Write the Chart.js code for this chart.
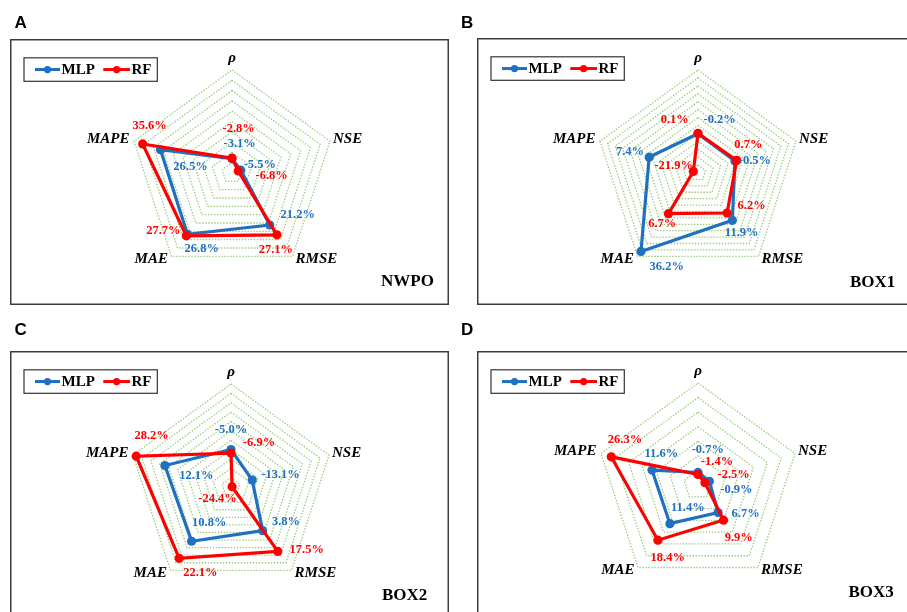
<!DOCTYPE html>
<html>
<head>
<meta charset="utf-8">
<script src="https://cdn.jsdelivr.net/npm/chart.js@4/dist/chart.umd.min.js"></script>
<style>
  html, body { margin: 0; padding: 0; background: #fff; overflow: hidden; width: 907px; height: 612px; }
  canvas { position: absolute; }
</style>
</head>
<body>
<canvas id="letters" width="907" height="612" style="left:0;top:0"></canvas>
<canvas id="cA"></canvas>
<canvas id="cB"></canvas>
<canvas id="cC"></canvas>
<canvas id="cD"></canvas>
<script>
// Radar axes, clockwise from the top
const axes = ['ρ', 'NSE', 'RMSE', 'MAE', 'MAPE'];

// Relative change (%) per metric: [ρ, NSE, RMSE, MAE, MAPE]
const mlpNWPO = [-3.1, -5.5, 21.2, 26.8, 26.5];
const rfNWPO  = [-2.8, -6.8, 27.1, 27.7, 35.6];
const mlpBOX1 = [-0.2, -0.5, 11.9, 36.2, 7.4];
const rfBOX1  = [0.1, 0.7, 6.2, 6.7, -21.9];
const mlpBOX2 = [-5.0, -13.1, 3.8, 10.8, 12.1];
const rfBOX2  = [-6.9, -24.4, 17.5, 22.1, 28.2];
const mlpBOX3 = [-0.7, -0.9, 6.7, 11.4, 11.6];
const rfBOX3  = [-1.4, -2.5, 9.9, 18.4, 26.3];

// Radial axis range per panel
const panelNames = ['NWPO', 'BOX1', 'BOX2', 'BOX3'];
const axisMin = [-10, -25, -25, -5];
const axisMax = [40, 40, 30, 30];
const axisStep = 5;

const SERIF = '"Liberation Serif", "Times New Roman", serif';
const SANS = '"Liberation Sans", Arial, sans-serif';
const BLUE = '#1f70c1';
const RED = '#ff0000';
const GRID = '#98cb78';

// Panel layout: canvas box [x, y, w, h], radar centre, radius, name position
const layout = [
  { id: 'cA', letter: 'A', letterAt: [15, 28.3], box: [10, 39, 439, 266], center: [232, 173.5], R: 103, nameAt: [381, 281.5] },
  { id: 'cB', letter: 'B', letterAt: [461.5, 28], box: [477, 38, 440, 267], center: [698, 173], R: 103, nameAt: [850, 282.5] },
  { id: 'cC', letter: 'C', letterAt: [15, 335], box: [10, 351, 439, 270], center: [231, 487], R: 103, nameAt: [382, 595.5] },
  { id: 'cD', letter: 'D', letterAt: [461.5, 335], box: [477, 351, 440, 270], center: [698, 485], R: 102, nameAt: [848.5, 592.5] }
];

// Value-label offsets from each point, [dx, dy] per axis
const labelShift = [
  { mlp: [[7.7, -15], [19, -5.6], [28, -10], [14.3, 14], [30, 17]],
    rf:  [[6.7, -29.5], [33.4, 4.6], [-1, 15], [-23, -5], [7, -18]] },
  { mlp: [[21.7, -14], [20, 0], [9.3, 12], [25.7, 15.5], [-19.2, -5.8]],
    rf:  [[-23.3, -13.7], [11.6, -15.7], [24.6, -7.5], [-6.2, 9.7], [-19.6, -6.2]] },
  { mlp: [[0, -20], [28.3, -5.3], [23.3, -8.6], [17.7, -18.2], [31.5, 10]],
    rf:  [[28, -10], [-14.5, 12.5], [29, -1.7], [21.2, 14], [15.4, -20]] },
  { mlp: [[9.8, -23], [27, 8], [27.6, 0.7], [18, -15.7], [9.3, -16.2]],
    rf:  [[19, -12.3], [28.8, -8.4], [15.2, 17.4], [9.8, 17.8], [13.7, -17.3]] }
];

// Axis-name placement relative to each outer vertex: [dx, dy, align]
const axisLabelPlace = [[0, -11.5, 'center'], [3, -2, 'left'], [3, 2.5, 'left'], [-3.5, 2.5, 'right'], [-4.5, -2, 'right']];

const series = [
  [mlpNWPO, rfNWPO],
  [mlpBOX1, rfBOX1],
  [mlpBOX2, rfBOX2],
  [mlpBOX3, rfBOX3]
];

// Panel letters above each frame
(function drawLetters() {
  const ctx = document.getElementById('letters').getContext('2d');
  ctx.fillStyle = '#000';
  ctx.font = 'bold 17px ' + SANS;
  ctx.textBaseline = 'alphabetic';
  layout.forEach(p => ctx.fillText(p.letter, p.letterAt[0] - 0.5, p.letterAt[1]));
})();

const panelDecor = {
  id: 'panelDecor',
  beforeDraw(chart, args, opts) {
    const ctx = chart.ctx;
    ctx.save();
    ctx.fillStyle = '#fff';
    ctx.fillRect(0, 0, chart.width, chart.height);
    ctx.strokeStyle = '#3c3c3c';
    ctx.lineWidth = 1.5;
    ctx.strokeRect(0.75, 0.75, chart.width - 1.5, chart.height - 1.5);
    ctx.restore();
  },
  afterDatasetsDraw(chart, args, opts) {
    const ctx = chart.ctx;
    ctx.save();
    ctx.font = 'bold 12.5px ' + SERIF;
    ctx.textAlign = 'center';
    ctx.textBaseline = 'middle';
    chart.data.datasets.forEach((ds, di) => {
      const meta = chart.getDatasetMeta(di);
      const shifts = opts.shifts[ds.key];
      ctx.fillStyle = ds.borderColor;
      meta.data.forEach((pt, i) => {
        const s = shifts[i];
        ctx.fillText(ds.data[i].toFixed(1) + '%', pt.x + s[0], pt.y + s[1]);
      });
    });
    ctx.restore();
  },
  afterDraw(chart, args, opts) {
    const ctx = chart.ctx;
    const scale = chart.scales.r;
    ctx.save();
    // axis names
    ctx.fillStyle = '#000';
    ctx.font = 'italic bold 15px ' + SERIF;
    ctx.textBaseline = 'middle';
    chart.data.labels.forEach((lab, i) => {
      const v = scale.getPointPosition(i, scale.drawingArea);
      const pl = axisLabelPlace[i];
      ctx.textAlign = pl[2];
      ctx.fillText(lab, v.x + pl[0], v.y + pl[1]);
    });
    // legend
    const lx = 14, ly = 18.8, lw = 133.3, lh = 23.5, my = ly + lh / 2;
    ctx.strokeStyle = '#333';
    ctx.lineWidth = 1.2;
    ctx.strokeRect(lx, ly, lw, lh);
    const entries = [
      { text: 'MLP', color: BLUE, x0: lx + 11, x1: lx + 36 },
      { text: 'RF', color: RED, x0: lx + 79.3, x1: lx + 106 }
    ];
    ctx.font = 'bold 15px ' + SERIF;
    ctx.textAlign = 'left';
    entries.forEach(e => {
      ctx.strokeStyle = e.color;
      ctx.lineWidth = 3;
      ctx.beginPath();
      ctx.moveTo(e.x0, my);
      ctx.lineTo(e.x1, my);
      ctx.stroke();
      ctx.fillStyle = e.color;
      ctx.beginPath();
      ctx.arc((e.x0 + e.x1) / 2, my, 3.6, 0, Math.PI * 2);
      ctx.fill();
      ctx.fillStyle = '#000';
      ctx.fillText(e.text, e.x1 + 1.5, my + 0.5);
    });
    // panel name
    ctx.font = 'bold 17px ' + SERIF;
    ctx.textBaseline = 'middle';
    ctx.fillText(opts.name, opts.nameAt[0], opts.nameAt[1]);
    ctx.restore();
  }
};

layout.forEach((p, k) => {
  const cv = document.getElementById(p.id);
  const [bx, by, bw, bh] = p.box;
  cv.width = bw;
  cv.height = bh;
  cv.style.left = bx + 'px';
  cv.style.top = by + 'px';
  const lcx = p.center[0] - bx, lcy = p.center[1] - by;
  const padding = {
    left: lcx - p.R,
    top: lcy - p.R,
    right: bw - (lcx + p.R),
    bottom: bh - (lcy + p.R)
  };
  const [mlp, rf] = series[k];
  new Chart(cv, {
    type: 'radar',
    data: {
      labels: axes,
      datasets: [
        { key: 'mlp', label: 'MLP', data: mlp, order: 1, borderColor: BLUE, backgroundColor: BLUE,
          pointBackgroundColor: BLUE, pointBorderColor: BLUE },
        { key: 'rf', label: 'RF', data: rf, order: 0, borderColor: RED, backgroundColor: RED,
          pointBackgroundColor: RED, pointBorderColor: RED }
      ]
    },
    options: {
      responsive: false,
      animation: false,
      devicePixelRatio: 1,
      layout: { padding },
      elements: {
        line: { borderWidth: 3.2, fill: false, tension: 0 },
        point: { radius: 4.6, borderWidth: 0, hoverRadius: 4.6 }
      },
      plugins: {
        legend: { display: false },
        tooltip: { enabled: false },
        panelDecor: {
          shifts: labelShift[k],
          name: panelNames[k],
          nameAt: [p.nameAt[0] - bx, p.nameAt[1] - by]
        }
      },
      scales: {
        r: {
          min: axisMin[k],
          max: axisMax[k],
          ticks: { display: false, stepSize: axisStep },
          angleLines: { display: false },
          pointLabels: { display: false },
          grid: { color: GRID, lineWidth: 1.3 },
          border: { dash: [1.4, 1.6] }
        }
      }
    },
    plugins: [panelDecor]
  });
});
</script>
</body>
</html>
